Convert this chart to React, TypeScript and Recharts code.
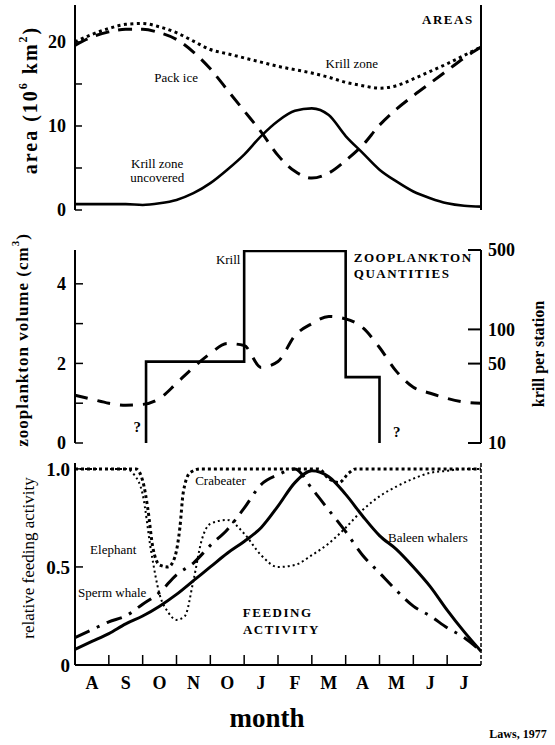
import React from 'react';
import { LineChart, Line, XAxis, YAxis, ReferenceDot } from 'recharts';

const serif = '"Liberation Serif", "Times New Roman", serif';

// x = months since 1 August
const monthLabels = ['A', 'S', 'O', 'N', 'O', 'J', 'F', 'M', 'A', 'M', 'J', 'J'];
const monthTicks = [0.5, 1, 1.5, 2, 2.5, 3, 3.5, 4, 4.5, 5, 5.5, 6, 6.5, 7, 7.5, 8, 8.5, 9, 9.5, 10, 10.5, 11, 11.5];
const halfMonths = [0, 0.5, 1, 1.5, 2, 2.5, 3, 3.5, 4, 4.5, 5, 5.5, 6, 6.5, 7, 7.5, 8, 8.5, 9, 9.5, 10, 10.5, 11, 11.5, 12];

// AREAS, 10^6 km^2
const krillZone = [20.0, 20.9, 21.6, 22.1, 22.2, 21.8, 21.1, 20.1, 19.1, 18.6, 18.1, 17.6, 17.1, 16.7, 16.3, 15.8, 15.2, 14.8, 14.5, 14.8, 15.6, 16.5, 17.4, 18.4, 19.4];
const packIce = [19.6, 20.6, 21.2, 21.5, 21.5, 21.1, 20.3, 18.8, 16.8, 14.3, 11.8, 9.3, 6.5, 4.6, 3.8, 4.4, 5.9, 7.7, 10.1, 12.0, 13.6, 15.1, 16.6, 18.1, 19.4];
const krillUncovered = [0.7, 0.7, 0.7, 0.7, 0.6, 0.8, 1.2, 2.0, 3.2, 4.8, 6.6, 8.8, 10.6, 11.8, 12.1, 11.3, 8.8, 6.8, 4.8, 3.4, 2.2, 1.4, 0.8, 0.5, 0.4];

// ZOOPLANKTON QUANTITIES
const zooVolume = [1.2, 1.1, 1.0, 0.95, 0.97, 1.12, 1.5, 1.9, 2.25, 2.5, 2.45, 1.9, 2.05, 2.7, 3.0, 3.18, 3.12, 2.9, 2.4, 1.8, 1.4, 1.25, 1.12, 1.03, 1.0];
const krillEdges = [2.1, 5, 8, 9];
const krillPerStation = [52, 490, 38];
const krillFloor = 10;

// FEEDING ACTIVITY
const baleenWhalers = [0.08, 0.12, 0.16, 0.21, 0.25, 0.3, 0.36, 0.43, 0.5, 0.57, 0.63, 0.7, 0.81, 0.93, 0.99, 0.96, 0.87, 0.76, 0.66, 0.59, 0.5, 0.4, 0.28, 0.17, 0.07];
const spermWhale = [0.14, 0.18, 0.22, 0.25, 0.31, 0.37, 0.46, 0.52, 0.61, 0.69, 0.8, 0.92, 0.97, 1.0, 0.9, 0.79, 0.68, 0.56, 0.47, 0.38, 0.3, 0.25, 0.19, 0.14, 0.07];
const elephantMonths = [0, 1, 1.5, 1.75, 2, 2.25, 2.5, 2.75, 3, 3.25, 3.5, 3.75, 4, 4.5, 5, 5.5, 6, 6.5, 7, 7.5, 8, 8.5, 9, 9.5, 10, 10.5, 11, 11.5, 12];
const elephant = [1, 1, 1, 0.97, 0.87, 0.58, 0.36, 0.27, 0.23, 0.25, 0.43, 0.64, 0.72, 0.74, 0.67, 0.56, 0.5, 0.51, 0.56, 0.62, 0.7, 0.79, 0.86, 0.91, 0.95, 0.98, 0.99, 1, 1];
const crabeaterMonths = [0, 1.8, 2, 2.15, 2.3, 2.5, 2.75, 2.95, 3.1, 3.2, 3.4, 3.7, 4, 5, 6, 7, 7.2, 7.5, 7.8, 8.1, 8.3, 9, 10, 11, 12];
const crabeater = [1, 1, 0.94, 0.8, 0.6, 0.51, 0.5, 0.55, 0.7, 0.88, 0.98, 1, 1, 1, 1, 1, 1, 0.95, 0.93, 0.98, 1, 1, 1, 1, 1];

const zip = (ms: number[], vs: number[]) => ms.map((m, i) => ({ m, v: vs[i] }));

const krillStep = [
  { m: krillEdges[0], v: krillFloor },
  ...krillEdges.map((m, i) => ({ m, v: i < krillPerStation.length ? krillPerStation[i] : krillFloor })),
];

const areaNotes = [
  { text: 'Pack ice', m: 2.99, v: 15.8 },
  { text: 'Krill zone', m: 8.18, v: 17.5 },
  { text: 'Krill  zone', m: 2.43, v: 5.6 },
  { text: 'uncovered', m: 2.43, v: 3.9 },
];
const feedNotes = [
  { text: 'Crabeater', m: 4.3, v: 0.94 },
  { text: 'Elephant', m: 1.13, v: 0.59 },
  { text: 'Sperm whale', m: 1.1, v: 0.37 },
  { text: 'Baleen whalers', m: 10.43, v: 0.65 },
];

const black = '#000';
const axisLine = { stroke: black, strokeWidth: 2 };
const tickFont = { fill: black, fontSize: 18, fontWeight: 700, fontFamily: serif };
const noteFont = { fill: black, fontSize: 13, fontFamily: serif };
const headFont = { fill: black, fontSize: 13, fontWeight: 700, fontFamily: serif, letterSpacing: 1.5 };

const note = (key: string, text: string, m: number, v: number, yAxisId: string, font: any, position: any = 'center') => (
  <ReferenceDot
    key={key}
    x={m}
    y={v}
    r={0}
    yAxisId={yAxisId}
    fill="none"
    stroke="none"
    label={{ value: text, position, offset: 0, ...font }}
  />
);

const MonthTick = (props: any) => {
  const { x, y, payload } = props;
  const v = payload.value;
  if (Number.isInteger(v)) {
    return <line x1={x} x2={x} y1={y} y2={y - 10} stroke={black} strokeWidth={1.5} />;
  }
  return (
    <text x={x} y={y + 24} textAnchor="middle" fill={black} fontSize={18} fontWeight={700} fontFamily={serif}>
      {monthLabels[Math.floor(v)]}
    </text>
  );
};

const vTitle = (x: number, y: number, content: React.ReactNode, size: number, weight: number, spacing = 0) => () => (
  <text
    x={x}
    y={y}
    transform={`rotate(-90 ${x} ${y})`}
    textAnchor="middle"
    dominantBaseline="central"
    fill={black}
    fontSize={size}
    fontWeight={weight}
    fontFamily={serif}
    letterSpacing={spacing}
  >
    {content}
  </text>
);

const bottomTitles = () => (
  <g>
    <text x={267} y={272} textAnchor="middle" fill={black} fontSize={27} fontWeight={700} fontFamily={serif}>
      month
    </text>
    <text x={518} y={283} textAnchor="middle" fill={black} fontSize={12} fontWeight={700} fontFamily={serif}>
      Laws, 1977
    </text>
  </g>
);

export default function App() {
  return (
    <div style={{ position: 'absolute', left: 0, top: 0, width: 555, height: 745, background: '#fff' }}>
      {/* AREAS */}
      <div style={{ position: 'absolute', left: 0, top: 0 }}>
        <LineChart width={555} height={225} margin={{ top: 5, right: 14, bottom: 15, left: 30 }}>
          <XAxis type="number" dataKey="m" domain={[0, 12]} tick={false} tickLine={false} height={0} axisLine={axisLine} />
          <YAxis
            yAxisId="l"
            width={45}
            domain={[0, 24.4]}
            ticks={[0, 5, 10, 15, 20]}
            interval={0}
            tickFormatter={(v: number) => (v % 10 === 0 ? String(v) : '')}
            tickSize={-7}
            tickMargin={16}
            axisLine={axisLine}
            tickLine={{ stroke: black, strokeWidth: 1.5 }}
            tick={tickFont}
            label={vTitle(30, 100, (
              <>
                area (10<tspan dy={-7} fontSize={12}>6</tspan>
                <tspan dy={7}> km</tspan>
                <tspan dy={-7} fontSize={12}>2</tspan>
                <tspan dy={7}>)</tspan>
              </>
            ), 20, 700, 2)}
          />
          <YAxis yAxisId="r" orientation="right" width={60} domain={[0, 24.4]} tick={false} tickLine={false} axisLine={axisLine} />
          <Line yAxisId="l" data={zip(halfMonths, krillZone)} dataKey="v" type="monotone" stroke={black} strokeWidth={3} strokeDasharray="3 3.5" dot={false} activeDot={false} isAnimationActive={false} />
          <Line yAxisId="l" data={zip(halfMonths, packIce)} dataKey="v" type="monotone" stroke={black} strokeWidth={3} strokeDasharray="14 9" dot={false} activeDot={false} isAnimationActive={false} />
          <Line yAxisId="l" data={zip(halfMonths, krillUncovered)} dataKey="v" type="monotone" stroke={black} strokeWidth={2.6} dot={false} activeDot={false} isAnimationActive={false} />
          {areaNotes.map((n, i) => note('a' + i, n.text, n.m, n.v, 'l', noteFont))}
          {note('areas', 'AREAS', 11.02, 22.7, 'l', headFont)}
        </LineChart>
      </div>

      {/* ZOOPLANKTON QUANTITIES */}
      <div style={{ position: 'absolute', left: 0, top: 225 }}>
        <LineChart width={555} height={230} margin={{ top: 25, right: 14, bottom: 12, left: 30 }}>
          <XAxis type="number" dataKey="m" domain={[0, 12]} tick={false} tickLine={false} height={0} axisLine={axisLine} />
          <YAxis
            yAxisId="l"
            width={45}
            domain={[0, 4.85]}
            ticks={[0, 1, 2, 3, 4]}
            interval={0}
            tickFormatter={(v: number) => (v % 2 === 0 ? String(v) : '')}
            tickSize={-8}
            tickMargin={17}
            axisLine={axisLine}
            tickLine={{ stroke: black, strokeWidth: 1.5 }}
            tick={tickFont}
            label={vTitle(22, 115, (
              <>
                zooplankton volume (cm<tspan dy={-7} fontSize={11}>3</tspan>
                <tspan dy={7}>)</tspan>
              </>
            ), 17, 700, 1)}
          />
          <YAxis
            yAxisId="r"
            orientation="right"
            width={60}
            scale="log"
            domain={[10, 500]}
            allowDataOverflow
            ticks={[10, 50, 100, 500]}
            interval={0}
            tickSize={-13}
            tickMargin={20}
            axisLine={axisLine}
            tickLine={{ stroke: black, strokeWidth: 2 }}
            tick={tickFont}
            label={vTitle(538, 129, 'krill per station', 16, 700)}
          />
          <Line yAxisId="l" data={zip(halfMonths, zooVolume)} dataKey="v" type="monotone" stroke={black} strokeWidth={3} strokeDasharray="13 10" dot={false} activeDot={false} isAnimationActive={false} />
          <Line yAxisId="r" data={krillStep} dataKey="v" type="stepAfter" stroke={black} strokeWidth={2.6} dot={false} activeDot={false} isAnimationActive={false} />
          {note('krill', 'Krill', 4.89, 4.62, 'l', noteFont, 'left')}
          {note('zq1', 'ZOOPLANKTON', 8.24, 4.67, 'l', headFont, 'right')}
          {note('zq2', 'QUANTITIES', 8.24, 4.25, 'l', headFont, 'right')}
          {note('q1', '?', 1.84, 0.4, 'l', { ...tickFont, fontSize: 15 })}
          {note('q2', '?', 9.51, 0.28, 'l', { ...tickFont, fontSize: 15 })}
        </LineChart>
      </div>

      {/* FEEDING ACTIVITY */}
      <div style={{ position: 'absolute', left: 0, top: 455 }}>
        <LineChart width={555} height={290} margin={{ top: 8, right: 14, bottom: 0, left: 30 }}>
          <XAxis
            type="number"
            dataKey="m"
            domain={[0, 12]}
            ticks={monthTicks}
            interval={0}
            tickSize={0}
            tickMargin={0}
            tickLine={false}
            height={80}
            axisLine={axisLine}
            tick={<MonthTick />}
            label={bottomTitles}
          />
          <YAxis
            yAxisId="l"
            width={45}
            domain={[0, 1.03]}
            ticks={[0, 0.5, 1]}
            interval={0}
            tickFormatter={(v: number) => (v === 0 ? '0' : v.toFixed(1))}
            tickSize={-8}
            tickMargin={13}
            axisLine={axisLine}
            tickLine={{ stroke: black, strokeWidth: 1.5 }}
            tick={{ ...tickFont, fontSize: 19 }}
            label={vTitle(28, 103, 'relative feeding activity', 17, 400)}
          />
          <YAxis
            yAxisId="r"
            orientation="right"
            width={60}
            domain={[0, 1.03]}
            tick={false}
            tickLine={false}
            axisLine={{ stroke: black, strokeWidth: 1.5, strokeDasharray: '4 2' }}
          />
          <Line yAxisId="l" data={zip(crabeaterMonths, crabeater)} dataKey="v" type="monotone" stroke={black} strokeWidth={3} strokeDasharray="3 3" dot={false} activeDot={false} isAnimationActive={false} />
          <Line yAxisId="l" data={zip(elephantMonths, elephant)} dataKey="v" type="monotone" stroke={black} strokeWidth={2} strokeDasharray="2 3" dot={false} activeDot={false} isAnimationActive={false} />
          <Line yAxisId="l" data={zip(halfMonths, spermWhale)} dataKey="v" type="monotone" stroke={black} strokeWidth={3} strokeDasharray="16 8 3 8" dot={false} activeDot={false} isAnimationActive={false} />
          <Line yAxisId="l" data={zip(halfMonths, baleenWhalers)} dataKey="v" type="monotone" stroke={black} strokeWidth={3} dot={false} activeDot={false} isAnimationActive={false} />
          {feedNotes.map((n, i) => note('f' + i, n.text, n.m, n.v, 'l', noteFont))}
          {note('fa1', 'FEEDING', 5.99, 0.27, 'l', headFont)}
          {note('fa2', 'ACTIVITY', 6.1, 0.18, 'l', headFont)}
        </LineChart>
      </div>
    </div>
  );
}
